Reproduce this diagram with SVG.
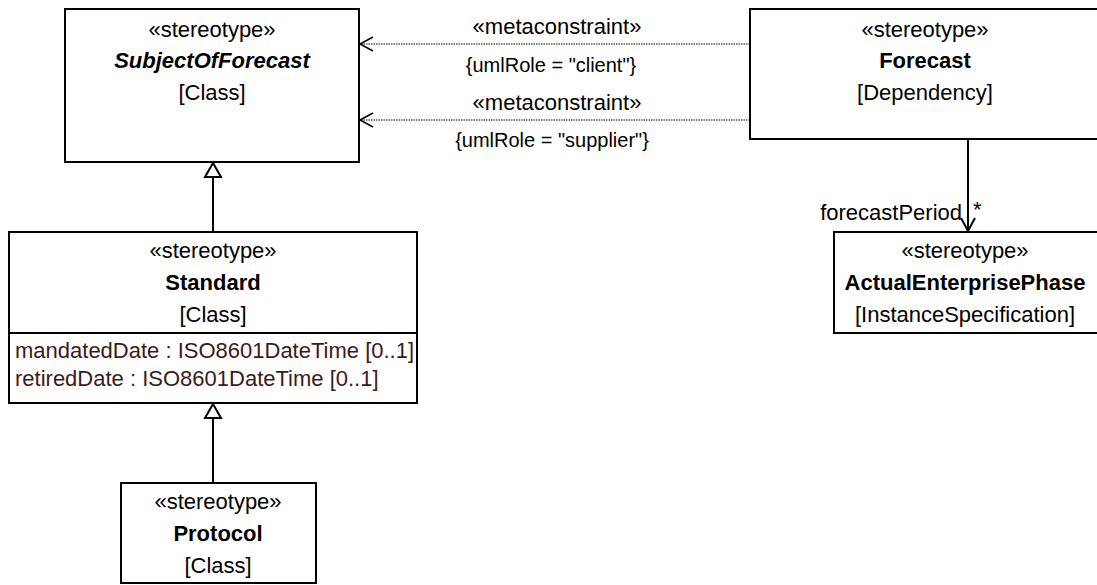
<svg xmlns="http://www.w3.org/2000/svg" width="1097" height="585" viewBox="0 0 1097 585">
<style>
text{font-family:"Liberation Sans",Arial,sans-serif;font-size:22px;fill:#000}
.c{text-anchor:middle}
.b{font-weight:bold}
.bi{font-weight:bold;font-style:italic}
.sm{font-size:20px}
.attr{fill:#3c1a1a}
.box{fill:#fff;stroke:#000;stroke-width:2}
.ln{fill:none;stroke:#000;stroke-width:2}
.head{fill:none;stroke:#000;stroke-width:1.5}
.dot{fill:none;stroke:#555;stroke-width:1.5;stroke-dasharray:1.5 1}
.tri{fill:#fff;stroke:#000;stroke-width:2}
</style>
<g id="connectors">
  <line class="dot" x1="750" y1="44" x2="360" y2="44"/>
  <polyline class="head" points="373,37 360,44 373,51"/>
  <line class="dot" x1="750" y1="120" x2="360" y2="120"/>
  <polyline class="head" points="373,113 360,120 373,127"/>
  <text class="c" x="557" y="34">«metaconstraint»</text>
  <text class="c sm" x="551" y="72">{umlRole = "client"}</text>
  <text class="c" x="557" y="110">«metaconstraint»</text>
  <text class="c sm" x="552" y="147">{umlRole = "supplier"}</text>
  <line class="ln" x1="213" y1="232" x2="213" y2="177"/>
  <polygon class="tri" points="213,163 205,177 221,177"/>
  <line class="ln" x1="213" y1="483" x2="213" y2="418"/>
  <polygon class="tri" points="213,404 205,418 221,418"/>
  <line class="ln" x1="968" y1="139" x2="968" y2="231"/>
  <polyline class="ln" points="961,218 968,231 975,218"/>
  <text x="962" y="220" text-anchor="end">forecastPeriod</text>
  <text x="973" y="217">*</text>
</g>
<g id="SubjectOfForecast">
  <rect class="box" x="65" y="9" width="294" height="153"/>
  <text class="c" x="212" y="37">«stereotype»</text>
  <text class="c bi" x="212" y="68">SubjectOfForecast</text>
  <text class="c" x="212" y="100">[Class]</text>
</g>
<g id="Forecast">
  <rect class="box" x="750" y="9" width="350" height="130"/>
  <text class="c" x="925" y="37">«stereotype»</text>
  <text class="c b" x="925" y="68">Forecast</text>
  <text class="c" x="925" y="100">[Dependency]</text>
</g>
<g id="ActualEnterprisePhase">
  <rect class="box" x="834" y="232" width="265" height="101"/>
  <text class="c" x="965" y="258">«stereotype»</text>
  <text class="c b" x="965" y="290">ActualEnterprisePhase</text>
  <text class="c" x="965" y="322">[InstanceSpecification]</text>
</g>
<g id="Standard">
  <rect class="box" x="9" y="232" width="408" height="171"/>
  <line class="ln" x1="9" y1="333" x2="417" y2="333"/>
  <text class="c" x="213" y="258">«stereotype»</text>
  <text class="c b" x="213" y="290">Standard</text>
  <text class="c" x="213" y="322">[Class]</text>
  <text class="attr" x="15" y="358">mandatedDate : ISO8601DateTime [0..1]</text>
  <text class="attr" x="15" y="386">retiredDate : ISO8601DateTime [0..1]</text>
</g>
<g id="Protocol">
  <rect class="box" x="121" y="483" width="195" height="100"/>
  <text class="c" x="218" y="509">«stereotype»</text>
  <text class="c b" x="218" y="541">Protocol</text>
  <text class="c" x="218" y="573">[Class]</text>
</g>
</svg>
